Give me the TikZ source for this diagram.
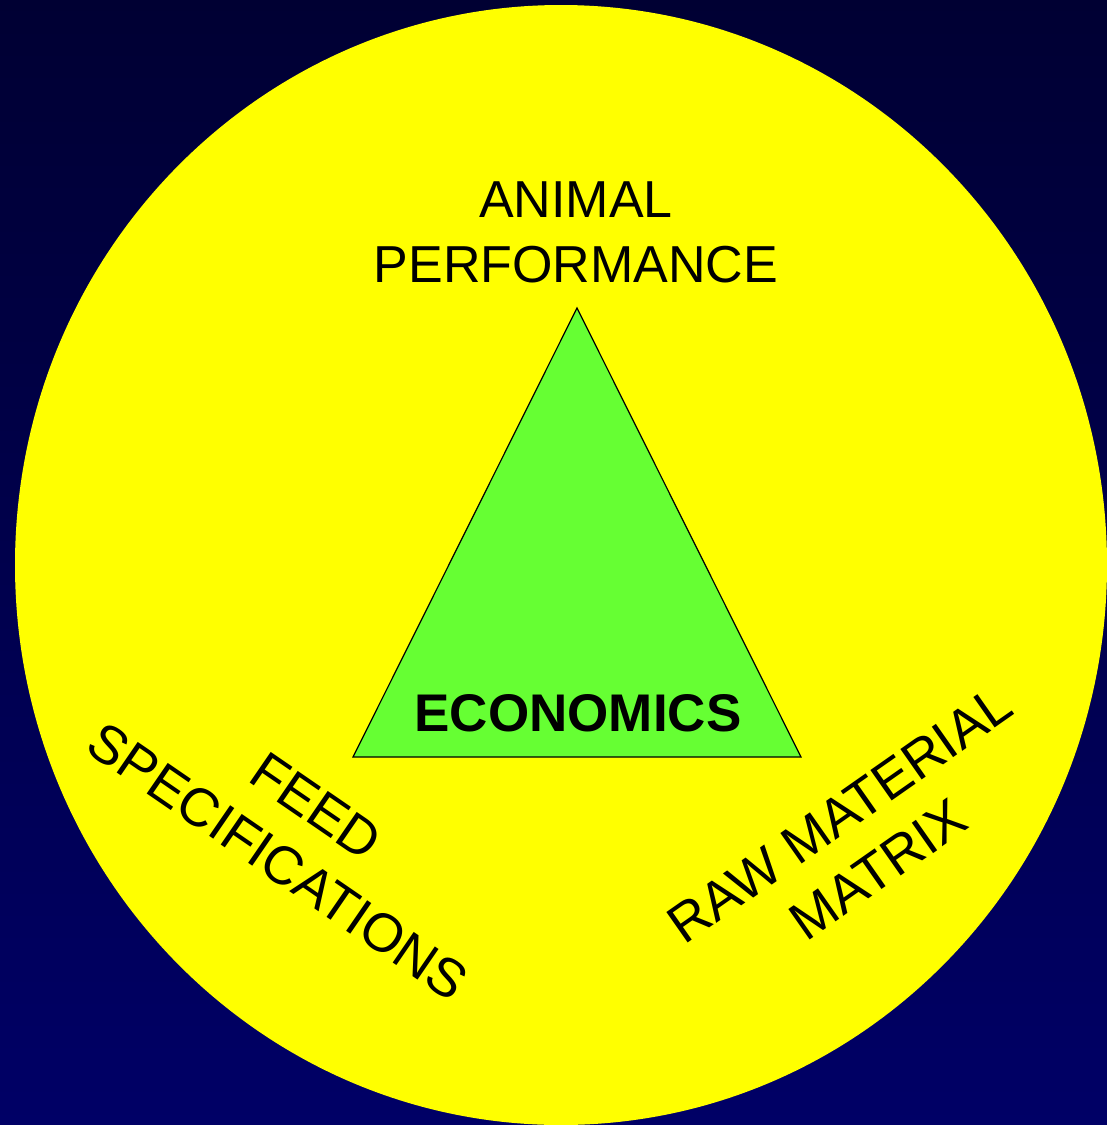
\documentclass[tikz,border=0pt]{standalone}
\usepackage{fontspec}
\setmainfont{Liberation Sans}
\definecolor{bgtop}{HTML}{000033}
\definecolor{bgbot}{HTML}{000066}
\definecolor{sunyellow}{HTML}{FFFF00}
\definecolor{trigreen}{HTML}{66FF33}
\begin{document}
\begin{tikzpicture}[x=1pt,y=-1pt,
  label/.style={font=\fontsize{52}{65}\selectfont, align=center, text=black, inner sep=0pt},
  slanted/.style={font=\fontsize{54}{67}\selectfont, align=center, text=black, inner sep=0pt}]
\useasboundingbox (0,0) rectangle (1107,1125);
\shade[top color=bgtop, bottom color=bgbot] (0,0) rectangle (1107,1125);
\fill[sunyellow] (561,565) ellipse [x radius=546, y radius=560];
\coordinate (apex) at (577,308);
\coordinate (bl) at (353,757);
\coordinate (br) at (801,757);
\filldraw[fill=trigreen, draw=black, line width=1.2pt, line join=miter] (apex) -- (bl) -- (br) -- cycle;
\node[label, font=\bfseries\fontsize{53}{65}\selectfont] (econ) at (578,713) {ECONOMICS};
\node[label] (perf) at (576,232) {ANIMAL\\PERFORMANCE};
\node[slanted, rotate=-34.5] (feed) at (297,834) {FEED\\SPECIFICATIONS};
\node[slanted, rotate=35] (raw) at (859,842) {RAW MATERIAL\\MATRIX};
\end{tikzpicture}
\end{document}
